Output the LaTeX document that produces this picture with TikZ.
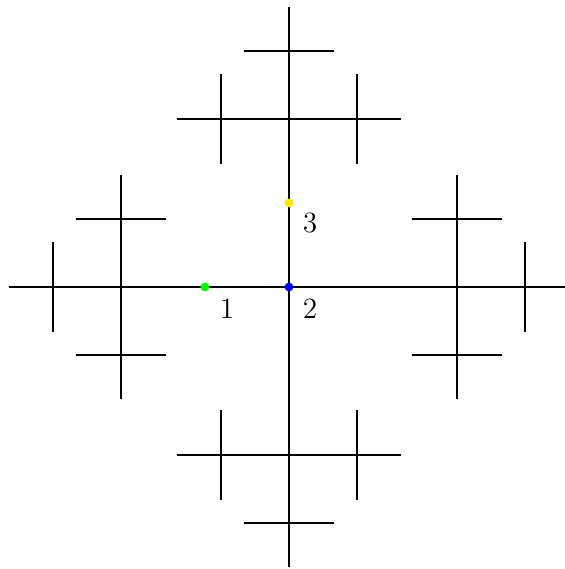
\documentclass[tikz,border=0pt]{standalone}
\definecolor{dotyellow}{RGB}{255,230,0}
\begin{document}
\begin{tikzpicture}[x=0.5pt,y=0.5pt,
  seg/.style={line width=1.2pt,line cap=butt},
  dotmark/.style={circle,inner sep=0pt,minimum size=4.4pt,fill=#1},
  lab/.style={inner sep=0pt,font=\fontsize{14.7pt}{17pt}\selectfont}]
\useasboundingbox (-289,-282) rectangle (275,287);
\coordinate (c) at (0,0);
\foreach \r in {0,90,180,270}{
  \begin{scope}[rotate=\r]
    \coordinate (n) at (0,168);
    \coordinate (f) at (0,280);
    \coordinate (ca) at (-45,236);
    \coordinate (cb) at (45,236);
    \coordinate (hl) at (-112,168);
    \coordinate (hr) at (112,168);
    \coordinate (la) at (-68,123);
    \coordinate (lb) at (-68,213);
    \coordinate (ra) at (68,123);
    \coordinate (rb) at (68,213);
    \draw[seg] (c) -- (f);
    \draw[seg] (ca) -- (cb);
    \draw[seg] (hl) -- (hr);
    \draw[seg] (la) -- (lb);
    \draw[seg] (ra) -- (rb);
  \end{scope}
}
\node[dotmark=green] (p1) at (-84,0) {};
\node[dotmark=blue] (p2) at (0,0) {};
\node[dotmark=dotyellow] (p3) at (0,84) {};
\node[lab] (l1) at (-62,-22) {1};
\node[lab] (l2) at (21,-22) {2};
\node[lab] (l3) at (21,64) {3};
\end{tikzpicture}
\end{document}
